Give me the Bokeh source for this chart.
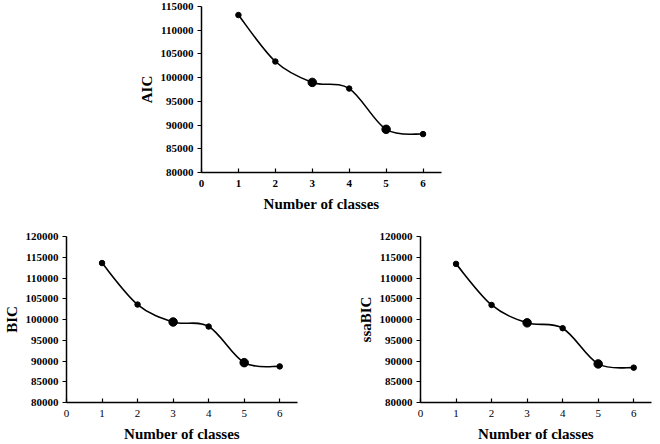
import numpy as np
from bokeh.plotting import figure
from bokeh.models import Range1d, FixedTicker, Spacer, ColumnDataSource
from bokeh.layouts import row, column
from bokeh.embed import file_html
from bokeh.resources import INLINE

# ---- data ----
classes = [1, 2, 3, 4, 5, 6]
aic = [113200, 103400, 99000, 97700, 89100, 88100]
bic = [113600, 103600, 99400, 98300, 89600, 88700]
ssabic = [113400, 103500, 99200, 97900, 89300, 88400]
highlight = [3, 5]
x_ticks = [0, 1, 2, 3, 4, 5, 6]
x_tick_labels = ["0", "1", "2", "3", "4", "5", "6"]
aic_ticks = [80000, 85000, 90000, 95000, 100000, 105000, 110000, 115000]
aic_tick_labels = ["80000", "85000", "90000", "95000", "100000", "105000", "110000", "115000"]
bic_ticks = [80000, 85000, 90000, 95000, 100000, 105000, 110000, 115000, 120000]
bic_tick_labels = ["80000", "85000", "90000", "95000", "100000", "105000", "110000", "115000", "120000"]
x_title = "Number of classes"

FONT = "Liberation Serif"


def smooth_segments(xs, ys):
    xs = np.asarray(xs, float)
    ys = np.asarray(ys, float)
    n = len(xs)
    xp = np.concatenate([[xs[0]], xs, [xs[-1]]])
    yp = np.concatenate([[ys[0]], ys, [ys[-1]]])
    return dict(
        x0=xs[:-1], y0=ys[:-1], x1=xs[1:], y1=ys[1:],
        cx0=xs[:-1] + (xp[2:n + 1] - xp[0:n - 1]) / 6.0,
        cy0=ys[:-1] + (yp[2:n + 1] - yp[0:n - 1]) / 6.0,
        cx1=xs[1:] - (xp[3:n + 2] - xp[1:n]) / 6.0,
        cy1=ys[1:] - (yp[3:n + 2] - yp[1:n]) / 6.0,
    )


def panel(title, values, yticks, ylabels, width, height, left, right, top, bottom, bold_x):
    p = figure(width=width, height=height,
               x_range=Range1d(0, 6.5), y_range=Range1d(yticks[0], yticks[-1]),
               output_backend="svg", toolbar_location=None,
               min_border_left=left, min_border_right=right,
               min_border_top=top, min_border_bottom=bottom)
    p.grid.visible = False
    p.outline_line_color = None
    p.background_fill_color = "white"
    p.border_fill_color = "white"

    xa = p.xaxis[0]
    xa.ticker = FixedTicker(ticks=x_ticks)
    xa.major_label_overrides = {t: l for t, l in zip(x_ticks, x_tick_labels)}
    xa.minor_tick_line_color = None
    xa.major_tick_in = 4
    xa.major_tick_out = 0
    xa.axis_line_width = 1.5
    xa.major_tick_line_width = 1.2
    xa.major_label_standoff = 7
    xa.major_label_text_font = FONT
    xa.major_label_text_font_size = "11px"
    xa.major_label_text_font_style = "bold" if bold_x else "normal"
    xa.major_label_text_color = "black"
    xa.axis_label = x_title
    xa.axis_label_text_font = FONT
    xa.axis_label_text_font_size = "15px"
    xa.axis_label_text_font_style = "bold"
    xa.axis_label_text_color = "black"
    xa.axis_label_standoff = 6

    ya = p.yaxis[0]
    ya.ticker = FixedTicker(ticks=yticks)
    ya.major_label_overrides = {t: l for t, l in zip(yticks, ylabels)}
    ya.minor_tick_line_color = None
    ya.major_tick_in = 0
    ya.major_tick_out = 4
    ya.axis_line_width = 1.5
    ya.major_tick_line_width = 1.2
    ya.major_label_standoff = 4
    ya.major_label_text_font = FONT
    ya.major_label_text_font_size = "11px"
    ya.major_label_text_font_style = "bold"
    ya.major_label_text_color = "black"
    ya.axis_label = title
    ya.axis_label_text_font = FONT
    ya.axis_label_text_font_size = "15px"
    ya.axis_label_text_font_style = "bold"
    ya.axis_label_text_color = "black"
    ya.axis_label_standoff = 3

    seg = ColumnDataSource(smooth_segments(classes, values))
    p.bezier(x0="x0", y0="y0", x1="x1", y1="y1", cx0="cx0", cy0="cy0",
             cx1="cx1", cy1="cy1", source=seg, line_color="black", line_width=1.6)

    sizes = [8.5 if c in highlight else 5.5 for c in classes]
    p.scatter(classes, values, size=sizes, fill_color="black", line_color="black")
    return p


p_aic = panel("AIC", aic, aic_ticks, aic_tick_labels, 307, 214, 61, 1, 6, 42, True)
p_bic = panel("BIC", bic, bic_ticks, bic_tick_labels, 298, 230, 58, 1, 22, 40, False)
p_ssa = panel("ssaBIC", ssabic, bic_ticks, bic_tick_labels, 298, 230, 61, 1, 22, 40, False)

layout = column(
    row(Spacer(width=135, height=214), p_aic),
    row(p_bic, Spacer(width=56, height=230), p_ssa),
)

open("out.html", "w").write(file_html(layout, INLINE))
